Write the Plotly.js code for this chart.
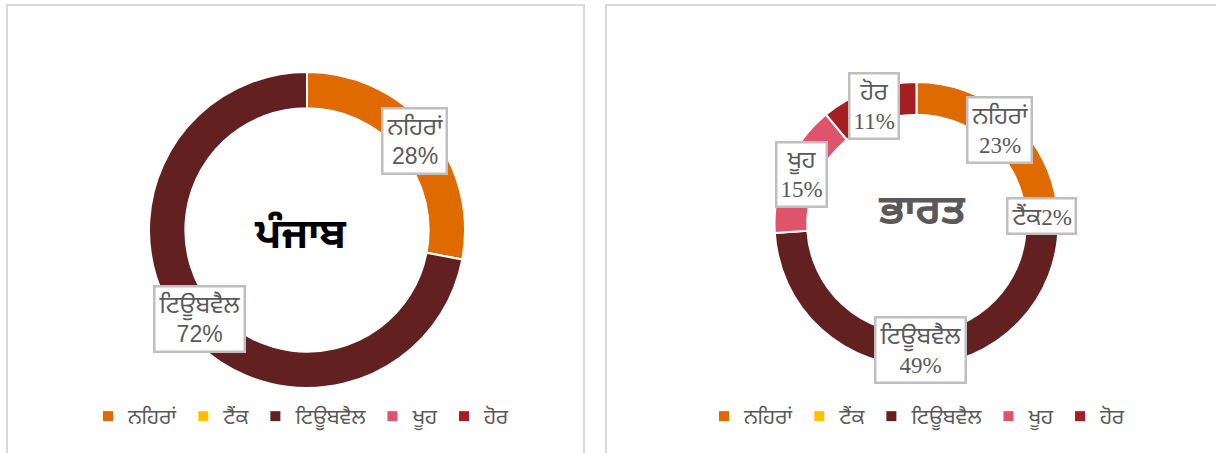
<!DOCTYPE html>
<html>
<head>
<meta charset="utf-8">
<script src="https://cdn.plot.ly/plotly-3.0.1.min.js"></script>
<style>html,body{margin:0;padding:0;background:#fff;}#chart{width:1216px;height:453px;}</style>
</head>
<body>
<div id="chart"></div>
<script>
// ---- data ----
const categories = ['ਨਹਿਰਾਂ', 'ਟੈਂਕ', 'ਟਿਊਬਵੈਲ', 'ਖੂਹ', 'ਹੋਰ'];
const punjabValues = [28, 0, 72, 0, 0];
const indiaValues = [23, 2, 49, 15, 11];
const chartTitles = ['ਪੰਜਾਬ', 'ਭਾਰਤ'];

// ---- style ----
const W = 1216, H = 453;
const sliceColors = ['#DE6A00', '#FFC000', '#622120', '#DE546C', '#A51E22'];
const GUR = "Noto Sans Gurmukhi, Noto Sans, sans-serif";
const hole = 0.77;
const pies = [
  {cx: 307, cy: 230, r: 158, values: punjabValues, title: chartTitles[0], titleColor: '#000000',
   titleDx: -7, titleDy: 8, numFont: "Liberation Sans", legend: 'legend', legendX: 88},
  {cx: 916.5, cy: 224, r: 142, values: indiaValues, title: chartTitles[1], titleColor: '#595959',
   titleDx: 5, titleDy: -10, numFont: "Liberation Serif", legend: 'legend2', legendX: 704}
];

const traces = [];
const annotations = [];
pies.forEach((p, i) => {
  const dom = {
    x: [(p.cx - p.r) / W, (p.cx + p.r) / W],
    y: [(H - p.cy - p.r) / H, (H - p.cy + p.r) / H]
  };
  traces.push({
    type: 'pie',
    labels: categories,
    values: p.values,
    hole: hole,
    sort: false,
    direction: 'clockwise',
    rotation: 0,
    textinfo: 'none',
    marker: {colors: sliceColors, line: {color: '#ffffff', width: 2}},
    domain: dom,
    showlegend: false
  });
  // legend entries (one per category) for this panel's legend
  categories.forEach((c, k) => {
    traces.push({
      type: 'scatter', mode: 'markers', x: [null], y: [null],
      name: c, legend: p.legend, showlegend: true,
      marker: {symbol: 'square', size: 10, color: sliceColors[k], line: {width: 0}},
      hoverinfo: 'skip'
    });
  });
  // data labels computed from values
  const total = p.values.reduce((a, b) => a + b, 0);
  let cum = 0;
  const rMid = p.r * (1 + hole) / 2;
  p.values.forEach((v, k) => {
    if (v <= 0) { return; }
    const mid = (cum + v / 2) / total * 2 * Math.PI;
    cum += v;
    const pct = Math.round(v / total * 100) + '%';
    const lab = '<span style="font-size:24px">' + categories[k] + '</span>';
    const txt = v / total < 0.05 ? lab + pct : lab + '<br>' + pct;
    annotations.push({
      xref: 'paper', yref: 'paper',
      x: (p.cx + rMid * Math.sin(mid)) / W,
      y: (H - p.cy + rMid * Math.cos(mid)) / H,
      xanchor: 'center', yanchor: 'middle',
      text: txt, showarrow: false,
      font: {family: p.numFont + ', ' + GUR, size: 23, color: '#595959'},
      bgcolor: '#ffffff', bordercolor: '#BFBFBF', borderwidth: 2.5, borderpad: 3
    });
  });
  annotations.push({
    xref: 'paper', yref: 'paper',
    x: (p.cx + p.titleDx) / W, y: (H - p.cy - p.titleDy) / H,
    xanchor: 'center', yanchor: 'middle', showarrow: false,
    text: '<b>' + p.title + '</b>',
    font: {family: GUR, size: 41, color: p.titleColor}
  });
});

const legendBase = {
  orientation: 'h', xanchor: 'left', yanchor: 'middle', y: (H - 416.5) / H,
  font: {family: GUR, size: 21, color: '#595959'},
  bgcolor: 'rgba(0,0,0,0)', itemclick: false, itemdoubleclick: false
};

const layout = {
  width: W, height: H,
  margin: {l: 0, r: 0, t: 0, b: 0},
  paper_bgcolor: '#ffffff',
  plot_bgcolor: 'rgba(0,0,0,0)',
  showlegend: true,
  xaxis: {visible: false},
  yaxis: {visible: false},
  legend: Object.assign({}, legendBase, {x: pies[0].legendX / W}),
  legend2: Object.assign({}, legendBase, {x: pies[1].legendX / W}),
  annotations: annotations,
  shapes: [
    {type: 'rect', xref: 'paper', yref: 'paper', x0: 7 / W, x1: 584 / W, y0: -0.1, y1: (H - 5) / H,
     line: {color: '#D9D9D9', width: 2}, fillcolor: 'rgba(0,0,0,0)', layer: 'below'},
    {type: 'rect', xref: 'paper', yref: 'paper', x0: 606 / W, x1: 1.1, y0: -0.1, y1: (H - 5) / H,
     line: {color: '#D9D9D9', width: 2}, fillcolor: 'rgba(0,0,0,0)', layer: 'below'}
  ]
};

Plotly.newPlot('chart', traces, layout, {displayModeBar: false, staticPlot: true});
</script>
</body>
</html>
